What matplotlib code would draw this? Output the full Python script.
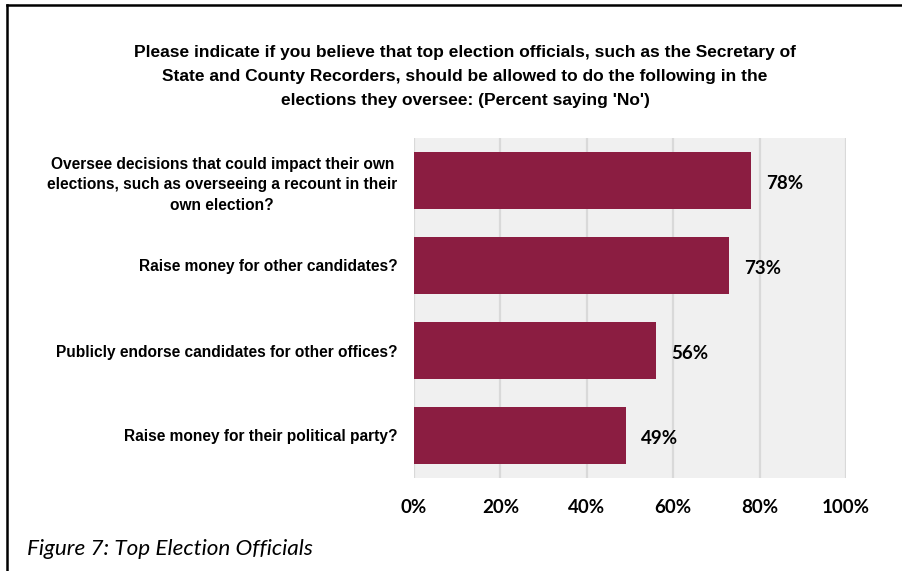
import matplotlib
matplotlib.use("Agg")
import matplotlib.pyplot as plt
from matplotlib.lines import Line2D
from matplotlib.ticker import FuncFormatter

categories = [
    "Oversee decisions that could impact their own\nelections, such as overseeing a recount in their\nown election?",
    "Raise money for other candidates?",
    "Publicly endorse candidates for other offices?",
    "Raise money for their political party?",
]
pct_no = [78, 73, 56, 49]
x_ticks = [0, 20, 40, 60, 80, 100]

TITLE = ("Please indicate if you believe that top election officials, such as the Secretary of\n"
         "State and County Recorders, should be allowed to do the following in the\n"
         "elections they oversee: (Percent saying 'No')")
CAPTION = "Figure 7: Top Election Officials"

BAR_COLOR = "#8B1D41"
PANEL_BG = "#F0F0F0"
GRID_COLOR = "#D9D9D9"
SANS = ["Liberation Sans", "DejaVu Sans"]
HUMANIST = ["Lato", "Open Sans", "DejaVu Sans"]

fig = plt.figure(figsize=(9.02, 5.71), dpi=100, facecolor="white")
ax = fig.add_axes([414 / 902, 1 - 478 / 571, 432 / 902, 340 / 571])
ax.set_facecolor(PANEL_BG)

ypos = list(range(len(categories)))
ax.barh(ypos, pct_no, height=0.66, color=BAR_COLOR, zorder=3)
ax.set_ylim(len(categories) - 0.5, -0.5)
ax.set_xlim(0, 100)

ax.set_xticks(x_ticks)
ax.xaxis.set_major_formatter(FuncFormatter(lambda v, _: f"{v:.0f}%"))
for lab in ax.get_xticklabels():
    lab.set_fontfamily(HUMANIST)
    lab.set_fontweight("bold")
    lab.set_fontsize(13.5)
ax.tick_params(axis="x", length=0, pad=15)
ax.grid(axis="x", color=GRID_COLOR, linewidth=1.6, zorder=1)

ax.set_yticks(ypos)
ax.set_yticklabels(categories, fontfamily=SANS, fontweight="bold",
                   fontsize=11.2, multialignment="center", linespacing=1.5)
ax.tick_params(axis="y", length=0, pad=12)

for s in ax.spines.values():
    s.set_visible(False)

for y, v in zip(ypos, pct_no):
    ax.text(v + 3.5, y + 0.03, f"{v}%", va="center", ha="left",
            fontfamily=HUMANIST, fontweight="bold", fontsize=13.5, zorder=4)

fig.text(465 / 902, 1 - 76 / 571, TITLE, ha="center", va="center",
         fontfamily=SANS, fontweight="bold", fontsize=12.5, linespacing=1.75)
fig.text(27 / 902, 1 - 549 / 571, CAPTION, ha="left", va="center",
         fontfamily=HUMANIST, fontstyle="italic", fontsize=16.2)

# frame lines along the top and left edges
fig.add_artist(Line2D([7 / 902, 1], [1 - 5 / 571, 1 - 5 / 571], color="black", linewidth=1.8))
fig.add_artist(Line2D([7 / 902, 7 / 902], [0, 1 - 5 / 571], color="black", linewidth=1.8))

fig.savefig("out.png", dpi=100, facecolor="white")
